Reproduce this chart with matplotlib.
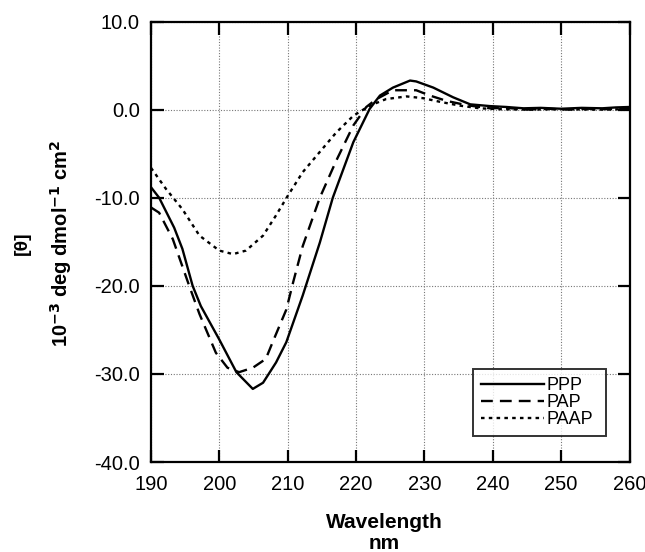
import matplotlib
matplotlib.use("Agg")
import matplotlib.pyplot as plt
from matplotlib.ticker import FormatStrFormatter

plt.rcParams['font.family'] = ['Liberation Sans', 'DejaVu Sans']

ppp_x = [190, 191.2, 193.4, 194.6, 196.1, 197.3, 200, 202.5, 204.9, 206.4, 208.3, 209.8,
         212.2, 214.7, 216.6, 219.6, 222, 223.5, 225.4, 227.9, 228.8, 231.3, 234.2, 236.7,
         239.6, 242, 244.5, 247, 250, 253, 256, 258, 260]
ppp_y = [-8.8, -10.0, -13.4, -15.8, -20.0, -22.3, -26.1, -29.8, -31.7, -31.0, -28.7, -26.4,
         -21.1, -15.1, -10.0, -3.7, 0.1, 1.6, 2.5, 3.3, 3.2, 2.5, 1.4, 0.6,
         0.4, 0.3, 0.15, 0.2, 0.1, 0.2, 0.15, 0.25, 0.3]

pap_x = [190, 191.2, 193.2, 195.6, 197.1, 199.5, 201.2, 202.9, 204.9, 206.8, 207.8, 209.8,
         210.8, 212.2, 214.7, 217.1, 219.6, 221.5, 223, 225.4, 227.4, 228.8, 230.8, 233.2,
         236.2, 239.6, 242, 245, 248, 251, 254, 257, 260]
pap_y = [-11.1, -11.7, -14.7, -20.0, -23.2, -27.6, -29.3, -29.8, -29.3, -28.3, -26.4, -22.7,
         -19.6, -15.5, -10.0, -5.8, -1.8, 0.3, 1.2, 2.2, 2.2, 2.2, 1.6, 1.0,
         0.5, 0.15, 0.2, 0.0, 0.1, 0.0, 0.1, 0.05, 0.1]

paap_x = [190, 192.2, 194.6, 197.1, 200, 202, 203.9, 206.4, 208.3, 210, 212.2, 214.7,
          217.1, 219.6, 222, 224.4, 227.4, 229.8, 232.2, 235.2, 238.1, 241, 245, 250, 255, 260]
paap_y = [-6.6, -9.0, -11.3, -14.3, -16.0, -16.4, -16.0, -14.3, -12.0, -9.8, -7.1, -4.8,
          -2.6, -0.7, 0.45, 1.2, 1.5, 1.3, 0.9, 0.45, 0.15, 0.05, 0.0, 0.05, 0.0, 0.05]

series_names = ["PPP", "PAP", "PAAP"]
x_ticks = [190, 200, 210, 220, 230, 240, 250, 260]
y_ticks = [-40, -30, -20, -10, 0, 10]

fig = plt.figure(figsize=(6.45, 5.52), dpi=100)
ax = fig.add_axes([0.234, 0.163, 0.742, 0.798])

ax.plot(ppp_x, ppp_y, color='black', lw=1.7, ls='-', label=series_names[0])
ax.plot(pap_x, pap_y, color='black', lw=1.7, ls=(0, (5, 3)), label=series_names[1])
ax.plot(paap_x, paap_y, color='black', lw=1.7, ls=(0, (1.5, 1.8)), label=series_names[2])

ax.set_xlim(190, 260)
ax.set_ylim(-40, 10)
ax.set_xticks(x_ticks)
ax.set_yticks(y_ticks)
ax.yaxis.set_major_formatter(FormatStrFormatter('%.1f'))
ax.grid(True, color='#777777', ls=(0, (1, 1.5)), lw=0.8)
ax.tick_params(direction='in', length=9, width=1.6, labelsize=14.5,
               top=True, right=True)
ax.tick_params(axis='x', pad=9)
ax.tick_params(axis='y', pad=8)
for s in ax.spines.values():
    s.set_linewidth(1.6)

leg = ax.legend(loc='lower left', bbox_to_anchor=(0.672, 0.059, 0.279, 0.163),
                mode='expand', frameon=True, fancybox=False, edgecolor='black',
                fontsize=13, handlelength=3.5, handletextpad=0.15, labelspacing=0.0,
                borderpad=0.45, borderaxespad=0)
leg.get_frame().set_linewidth(1.4)

fig.text(0.034, 0.56, "[\u03b8]", rotation=90, ha='center', va='center',
         fontsize=14, fontweight='bold')
fig.text(0.095, 0.56, r"10$^{\mathbf{-3}}$ deg dmol$^{\mathbf{-1}}$ cm$^{\mathbf{2}}$",
         rotation=90, ha='center', va='center', fontsize=14.5, fontweight='bold')

fig.text(0.596, 0.053, "Wavelength", ha='center', va='center', fontsize=15, fontweight='bold')
fig.text(0.596, 0.016, "nm", ha='center', va='center', fontsize=15, fontweight='bold')

fig.savefig("out.png", dpi=100)
